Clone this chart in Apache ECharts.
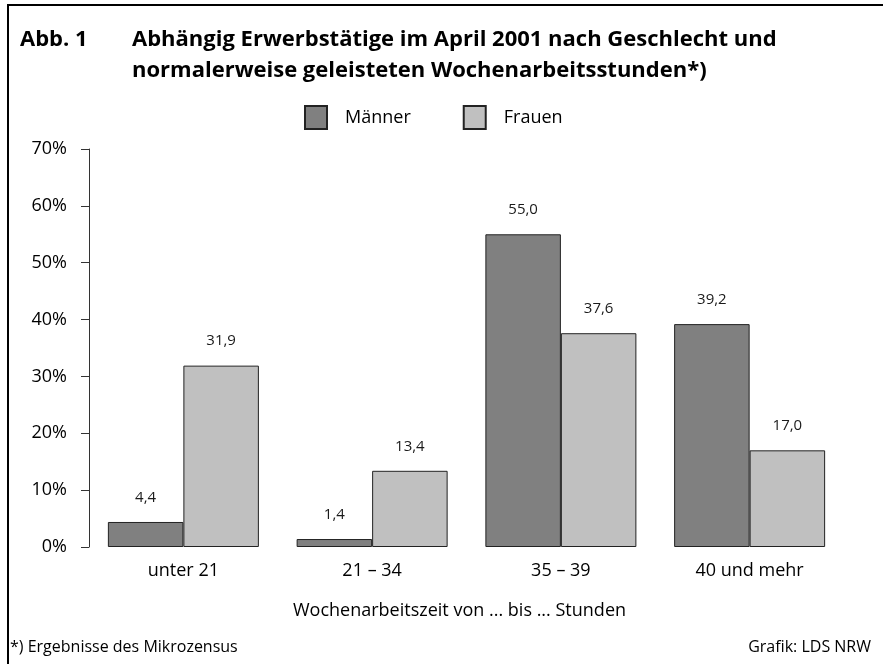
<!DOCTYPE html>
<html>
<head>
<meta charset="utf-8">
<script src="https://cdn.jsdelivr.net/npm/echarts@6/dist/echarts.min.js"></script>
<style>
  html, body { margin: 0; padding: 0; background: #fff; }
  #chart { width: 883px; height: 664px; }
</style>
</head>
<body>
<div id="chart"></div>
<script>
const categories = ['unter 21', '21 – 34', '35 – 39', '40 und mehr'];
const maenner = [4.4, 1.4, 55.0, 39.2];
const frauen = [31.9, 13.4, 37.6, 17.0];
const seriesNames = ['Männer', 'Frauen'];
const yMin = 0, yMax = 70, yStep = 10;

const FONT = '"Open Sans", "Noto Sans", sans-serif';
const fmt = v => v.toFixed(1).replace('.', ',');

const chart = echarts.init(document.getElementById('chart'), null, { renderer: 'canvas' });

const labelOpt = {
  show: true,
  position: 'top',
  distance: 17,
  fontFamily: FONT,
  fontSize: 15,
  color: '#1a1a1a',
  formatter: p => fmt(p.value)
};

chart.setOption({
  backgroundColor: '#ffffff',
  animation: false,
  title: [
    {
      text: 'Abb. 1',
      left: 20, top: 24,
      padding: 0,
      textStyle: { fontFamily: FONT, fontSize: 22, fontWeight: 'bold', color: '#000', lineHeight: 31 }
    },
    {
      text: 'Abhängig Erwerbstätige im April 2001 nach Geschlecht und\nnormalerweise geleisteten Wochenarbeitsstunden*)',
      left: 132, top: 24,
      padding: 0,
      textStyle: { fontFamily: FONT, fontSize: 22, fontWeight: 'bold', color: '#000', lineHeight: 31 }
    },
    {
      text: '*) Ergebnisse des Mikrozensus',
      left: 10, top: 639,
      padding: 0,
      textStyle: { fontFamily: FONT, fontSize: 16, fontWeight: 'normal', color: '#000' }
    },
    {
      text: 'Grafik: LDS NRW',
      right: 12, top: 639,
      padding: 0,
      textStyle: { fontFamily: FONT, fontSize: 16, fontWeight: 'normal', color: '#000' }
    }
  ],
  legend: {
    data: seriesNames,
    left: 304, top: 105,
    padding: 0,
    itemWidth: 22, itemHeight: 23,
    itemGap: 52,
    icon: 'rect',
    textStyle: { fontFamily: FONT, fontSize: 18, color: '#000', padding: [0, 0, 0, 13] }
  },
  grid: { left: 89, right: 39, top: 149, bottom: 117, containLabel: false },
  xAxis: {
    type: 'category',
    data: categories,
    axisLine: { show: false },
    axisTick: { show: false },
    axisLabel: { margin: 15, fontFamily: FONT, fontSize: 18, color: '#000' },
    name: 'Wochenarbeitszeit von ... bis ... Stunden',
    nameLocation: 'middle',
    nameGap: 55,
    nameTextStyle: { fontFamily: FONT, fontSize: 18, color: '#000', padding: [0, 14, 0, 0] }
  },
  yAxis: {
    type: 'value',
    min: yMin, max: yMax, interval: yStep,
    axisLine: { show: true, lineStyle: { color: '#333', width: 1 } },
    axisTick: { show: true, length: 8, lineStyle: { color: '#333', width: 1 } },
    splitLine: { show: false },
    axisLabel: { margin: 22, fontFamily: FONT, fontSize: 18, color: '#000', formatter: v => v + '%' }
  },
  series: [
    {
      name: seriesNames[0], type: 'bar', data: maenner,
      barGap: '0%', barCategoryGap: '20%',
      itemStyle: { color: '#808080', borderColor: '#222', borderWidth: 1 },
      label: labelOpt
    },
    {
      name: seriesNames[1], type: 'bar', data: frauen,
      barGap: '0%', barCategoryGap: '20%',
      itemStyle: { color: '#c0c0c0', borderColor: '#222', borderWidth: 1 },
      label: labelOpt
    }
  ],
  graphic: [
    {
      type: 'polyline',
      silent: true,
      shape: { points: [[8, 664], [8, 5], [883, 5]] },
      style: { stroke: '#000', lineWidth: 2, fill: null }
    }
  ]
});
</script>
</body>
</html>
